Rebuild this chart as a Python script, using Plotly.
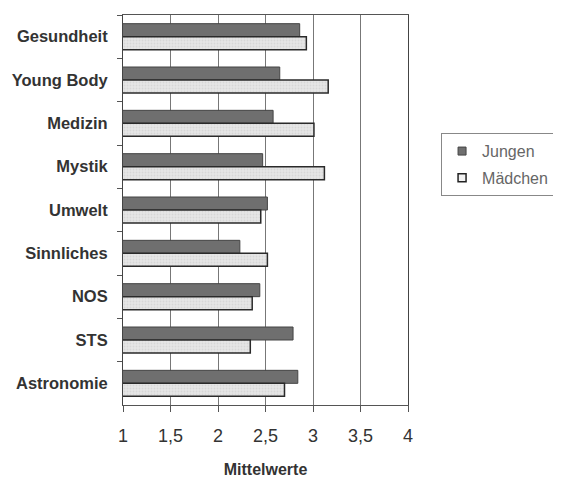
import plotly.graph_objects as go

categories = ["Gesundheit", "Young Body", "Medizin", "Mystik", "Umwelt",
              "Sinnliches", "NOS", "STS", "Astronomie"]
jungen = [2.86, 2.65, 2.58, 2.47, 2.52, 2.23, 2.44, 2.79, 2.84]
maedchen = [2.93, 3.16, 3.01, 3.12, 2.45, 2.52, 2.36, 2.34, 2.70]
x_ticks = [1, 1.5, 2, 2.5, 3, 3.5, 4]
x_tick_labels = ["1", "1,5", "2", "2,5", "3", "3,5", "4"]

JUNGEN_COLOR = "#6f6f6f"
MAEDCHEN_COLOR = "#e2e2e2"

fig = go.Figure()
fig.add_trace(go.Bar(
    y=categories, x=jungen, name="Jungen", orientation="h", base=0,
    marker=dict(color=JUNGEN_COLOR, line=dict(color="#444", width=1)),
    showlegend=False,
))
fig.add_trace(go.Bar(
    y=categories, x=maedchen, name="Mädchen", orientation="h", base=0,
    marker=dict(color=MAEDCHEN_COLOR, line=dict(color="#2a2a2a", width=1.5),
                pattern=dict(shape=".", fgcolor="#c8c8c8", bgcolor="#e6e6e6", size=3, solidity=0.3)),
    showlegend=False,
))
# legend entries with small square keys
fig.add_trace(go.Scatter(
    x=[None], y=[None], mode="markers", name="Jungen", legendgroup="j",
    marker=dict(symbol="square", size=8, color=JUNGEN_COLOR, line=dict(color="#444", width=1)),
))
fig.add_trace(go.Scatter(
    x=[None], y=[None], mode="markers", name="Mädchen", legendgroup="m",
    marker=dict(symbol="square", size=8, color="#f2f2f2", line=dict(color="#222", width=1.5)),
))

fig.update_layout(
    width=553, height=470,
    margin=dict(l=115, r=153, t=7, b=73, autoexpand=False),
    paper_bgcolor="white", plot_bgcolor="white",
    barmode="group", bargap=0.4, bargroupgap=0,
    separators=", ",
    font=dict(family="Liberation Sans, Arial, sans-serif", color="#333"),
    legend=dict(x=1.116, y=0.697, xanchor="left", yanchor="top",
                bordercolor="#888", borderwidth=1,
                font=dict(size=16, color="#666"),
                itemwidth=30, tracegroupgap=3, traceorder="grouped"),
    showlegend=True,
)
fig.update_xaxes(
    range=[1, 4], tickvals=x_ticks, ticktext=x_tick_labels,
    showgrid=True, gridcolor="#777", gridwidth=1,
    showline=True, linecolor="#555", linewidth=1, mirror=True,
    ticks="outside", ticklen=6, tickcolor="#555",
    tickfont=dict(size=18, color="#333"),
    ticklabelstandoff=8,
    title=dict(text="<b>Mittelwerte</b>", font=dict(size=16, color="#333"), standoff=21),
    zeroline=False, automargin=True,
)
fig.update_yaxes(
    categoryorder="array", categoryarray=categories, autorange="reversed",
    tickson="boundaries", ticks="outside", ticklen=5, tickcolor="#555",
    showgrid=False, showline=True, linecolor="#444", linewidth=1, mirror=True,
    tickfont=dict(size=16.5, color="#333"),
    ticklabelstandoff=11,
    tickprefix="<b>", ticksuffix="</b>",
    automargin=False,
)

fig.write_html("out.html")
